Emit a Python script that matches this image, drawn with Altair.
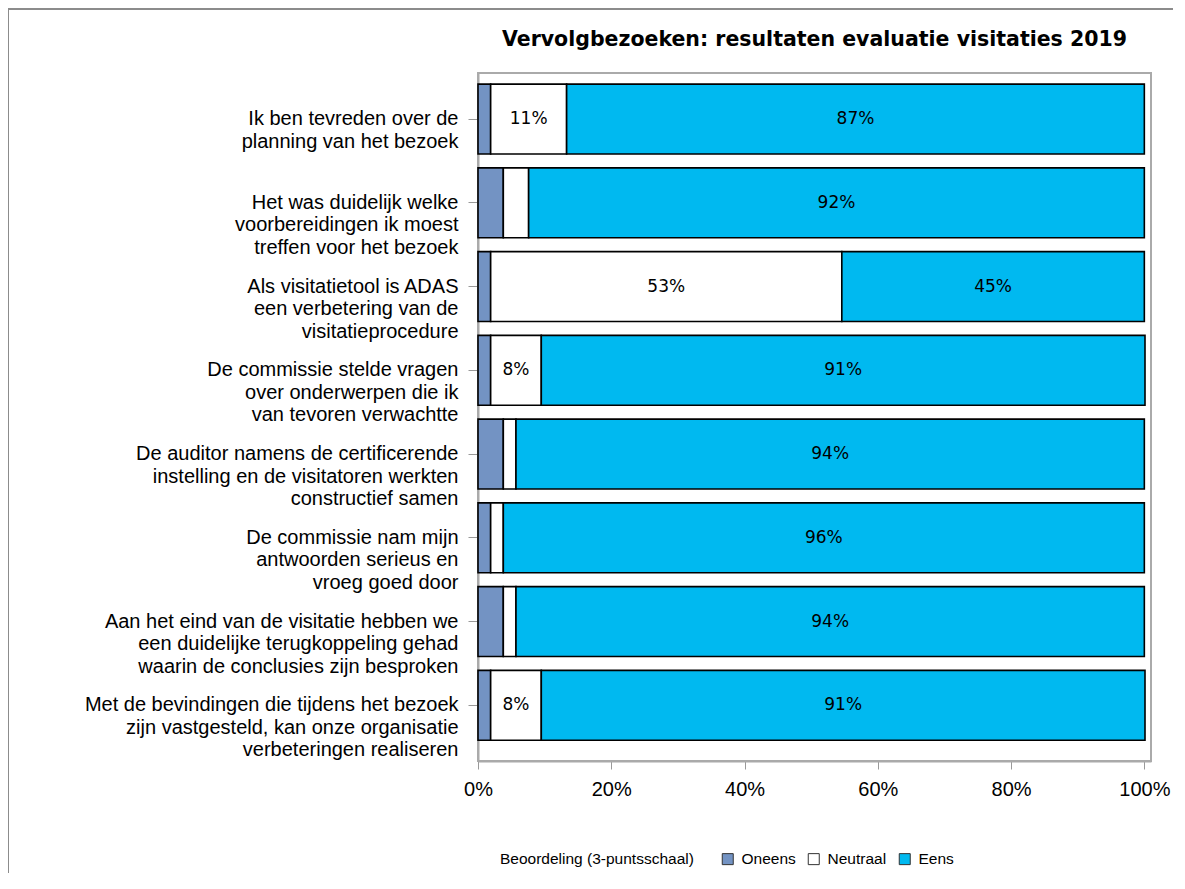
import altair as alt
import pandas as pd

title_text = "Vervolgbezoeken: resultaten evaluatie visitaties 2019"
items = [
    "Ik ben tevreden over de|planning van het bezoek",
    "Het was duidelijk welke|voorbereidingen ik moest|treffen voor het bezoek",
    "Als visitatietool is ADAS|een verbetering van de|visitatieprocedure",
    "De commissie stelde vragen|over onderwerpen die ik|van tevoren verwachtte",
    "De auditor namens de certificerende|instelling en de visitatoren werkten|constructief samen",
    "De commissie nam mijn|antwoorden serieus en|vroeg goed door",
    "Aan het eind van de visitatie hebben we|een duidelijke terugkoppeling gehad|waarin de conclusies zijn besproken",
    "Met de bevindingen die tijdens het bezoek|zijn vastgesteld, kan onze organisatie|verbeteringen realiseren",
]
categories = ["Oneens", "Neutraal", "Eens"]
oneens = [1.9, 3.8, 1.9, 1.9, 3.8, 1.9, 3.8, 1.9]
neutraal = [11.4, 3.8, 52.7, 7.6, 1.9, 1.9, 1.9, 7.6]
eens = [86.7, 92.4, 45.4, 90.6, 94.3, 96.2, 94.3, 90.6]
colors = ["#7393C3", "#FFFFFF", "#00B9F0"]
x_ticks = [0, 20, 40, 60, 80, 100]

rows = []
for i, it in enumerate(items):
    for k, (cat, vals) in enumerate(zip(categories, [oneens, neutraal, eens])):
        rows.append({"item": it, "cat": cat, "value": vals[i], "ord": k})
df = pd.DataFrame(rows)

base = alt.Chart(df).transform_window(
    cum="sum(value)", groupby=["item"], sort=[alt.SortField("ord")], frame=[None, 0]
).transform_calculate(
    start="datum.cum - datum.value",
    mid="datum.cum - datum.value / 2",
    lab="format(datum.value, '.0f') + '%'",
)

yenc = alt.Y(
    "item:N",
    sort=items,
    title=None,
    scale=alt.Scale(paddingInner=0.165, paddingOuter=0.19, align=0.35),
    axis=alt.Axis(
        labelExpr="split(datum.label, '|')",
        labelFont="Liberation Sans",
        labelFontSize=20,
        labelLineHeight=22.5,
        labelColor="#000000",
        labelLimit=0,
        labelPadding=10,
        tickSize=10,
        tickColor="#999999",
        domainColor="#aaaaaa",
        domainWidth=2,
        grid=False,
    ),
)

xscale = alt.Scale(domain=[0, 101], nice=False, zero=True)
xaxis = alt.Axis(
    values=x_ticks,
    labelExpr="datum.value + '%'",
    labelFont="Liberation Sans",
    labelFontSize=20,
    labelColor="#000000",
    labelPadding=10,
    labelFlush=False,
    tickSize=8,
    tickColor="#999999",
    domainColor="#aaaaaa",
    domainWidth=2,
    grid=False,
    title=None,
)

bars = base.mark_bar(stroke="#000000", strokeWidth=1.6).encode(
    x=alt.X("start:Q", scale=xscale, axis=xaxis),
    x2="cum:Q",
    y=yenc,
    color=alt.Color(
        "cat:N",
        scale=alt.Scale(domain=categories, range=colors),
        sort=categories,
        legend=alt.Legend(
            title="Beoordeling (3-puntsschaal)",
            orient="none",
            legendX=22,
            legendY=778,
            direction="horizontal",
            titleOrient="left",
            titleFont="Liberation Sans",
            titleFontSize=15.5,
            titleFontWeight="normal",
            titleColor="#000000",
            titlePadding=26,
            titleLimit=0,
            labelFont="Liberation Sans",
            labelFontSize=15.5,
            labelColor="#000000",
            labelLimit=0,
            symbolType="square",
            symbolSize=121,
            symbolStrokeColor="#333333",
            symbolStrokeWidth=1,
            symbolOpacity=1,
            columnPadding=10,
            labelOffset=6,
        ),
    ),
    order=alt.Order("ord:Q"),
)

texts = base.transform_filter(
    "(datum.cat == 'Neutraal' && datum.value >= 7.5) || datum.cat == 'Eens'"
).mark_text(font="DejaVu Sans", fontSize=17, color="#000000").encode(
    x=alt.X("mid:Q", scale=xscale),
    y=alt.Y("item:N", sort=items),
    text="lab:N",
)

frame = alt.Chart(pd.DataFrame({"a": [0]})).mark_rect(
    fillOpacity=0, stroke="#8c8c8c", strokeWidth=2
).encode(
    x=alt.value(-470), y=alt.value(-64), x2=alt.value(3000), y2=alt.value(3000)
)

title = alt.Chart(pd.DataFrame({"t": [title_text]})).mark_text(
    font="DejaVu Sans", fontSize=20.5, fontWeight="bold", color="#000000",
    align="center", baseline="middle",
).encode(x=alt.value(336.5), y=alt.value(-33), text="t:N")

chart = alt.layer(frame, bars, texts, title).properties(
    width=673,
    height=688,
    autosize=alt.AutoSizeParams(type="none"),
    padding={"left": 470, "top": 65, "right": 22, "bottom": 112},
).configure_view(stroke="#aaaaaa", strokeWidth=2)

chart.save("out.html", embed_options={"renderer": "svg", "actions": False})
